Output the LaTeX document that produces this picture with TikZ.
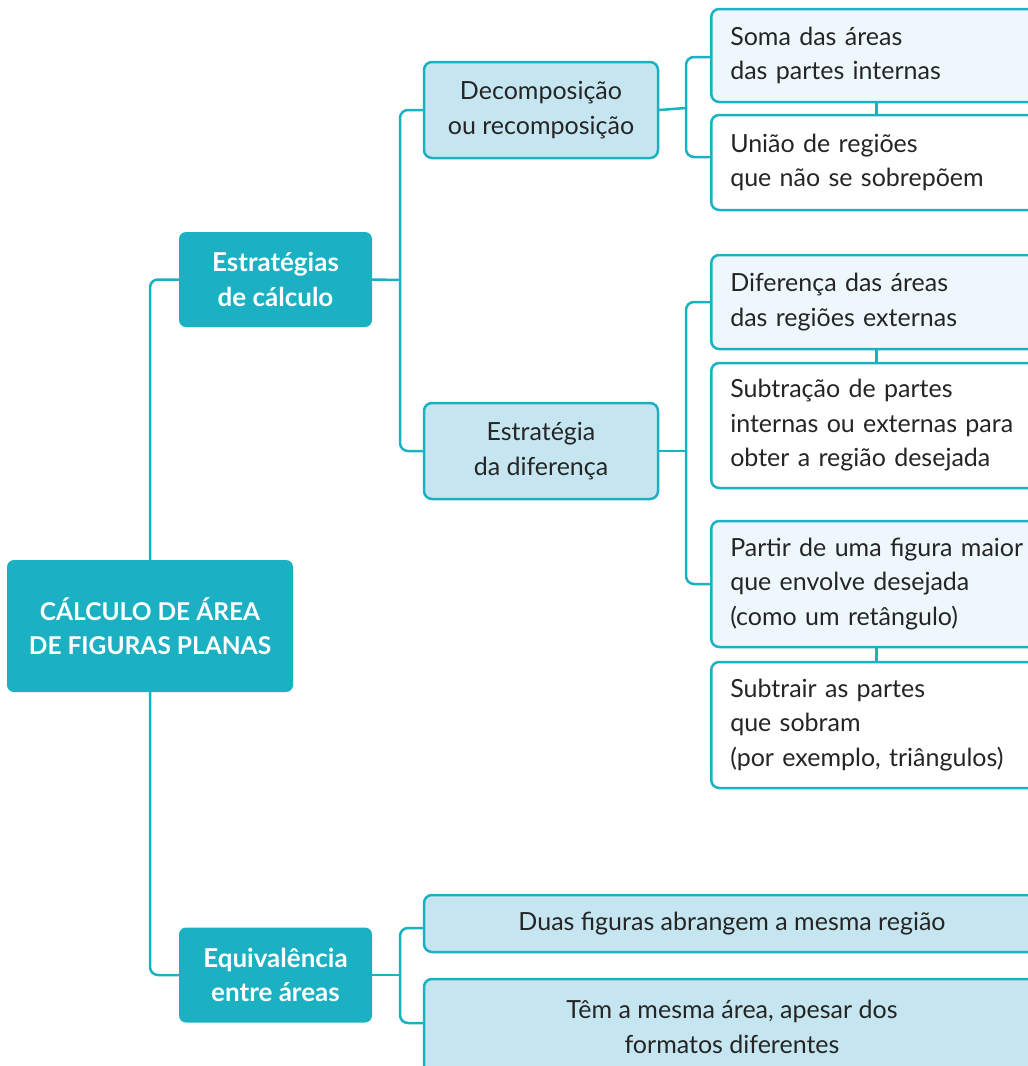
\documentclass[tikz,border=0pt]{standalone}
\usepackage{fontspec}
\setmainfont{Lato}
\usetikzlibrary{calc}
\definecolor{teal1}{HTML}{1CB1C2}
\definecolor{lblue}{HTML}{C5E6F0}
\definecolor{vlblue}{HTML}{EEF8FC}
\definecolor{txt}{HTML}{252525}
\tikzset{
  conn/.style={draw=teal1, line width=2.5pt, rounded corners=8pt},
  rootbox/.style={fill=teal1, rounded corners=7pt, text=white, align=center,
     font=\fontsize{24.5}{34}\selectfont\bfseries, minimum width=286pt, minimum height=132pt, inner sep=0pt},
  lvlone/.style={fill=teal1, rounded corners=7pt, text=white, align=center,
     font=\fontsize{26}{34.5}\selectfont\bfseries, minimum width=193pt, minimum height=95pt, inner sep=0pt},
  lvltwo/.style={fill=lblue, draw=teal1, line width=2.5pt, rounded corners=8pt, text=txt, align=center,
     font=\fontsize{25}{34.5}\selectfont, minimum width=234pt, minimum height=96pt, inner sep=0pt},
  leaf/.style={draw=teal1, fill=white, line width=2.5pt, rounded corners=8pt, text=txt, align=left,
     font=\fontsize{25}{34.5}\selectfont, anchor=west, text width=320pt, inner xsep=19pt, inner ysep=0pt},
  leaflight/.style={leaf, fill=vlblue},
  wide/.style={fill=lblue, draw=teal1, line width=2.5pt, rounded corners=8pt, text=txt, align=center,
     font=\fontsize{25}{34.5}\selectfont, minimum width=616pt, inner sep=0pt},
}
\begin{document}
\begin{tikzpicture}[x=1pt,y=-1pt]
\useasboundingbox (0,0) rectangle (1028,1066);
\clip (0,0) rectangle (1028,1066);
\fill[white] (0,0) rectangle (1028,1066);

% nodes
\node[rootbox] (root) at (150,626) {CÁLCULO DE ÁREA\\DE FIGURAS PLANAS};
\node[lvlone] (est) at (275.5,279.5) {Estratégias\\de cálculo};
\node[lvlone] (eq) at (275.5,975) {Equivalência\\entre áreas};
\node[lvltwo] (dec) at (541,110) {Decomposição\\ou recomposição};
\node[lvltwo] (dif) at (541,451) {Estratégia\\da diferença};

\node[leaflight, minimum height=93pt] (b1) at (710,55.5) {Soma das áreas\\das partes internas};
\node[leaf, minimum height=95pt] (b2) at (710,162.5) {União de regiões\\que não se sobrepõem};
\node[leaflight, minimum height=94pt] (b3) at (710,302) {Diferença das áreas\\das regiões externas};
\node[leaf, minimum height=125pt] (b4) at (710,425.5) {Subtração de partes\\internas ou externas para\\obter a região desejada};
\node[leaflight, minimum height=126pt] (b5) at (710,584) {Partir de uma figura maior\\que envolve desejada\\(como um retângulo)};
\node[leaf, minimum height=126pt] (b6) at (710,725) {Subtrair as partes\\que sobram\\(por exemplo, triângulos)};

\node[wide, minimum height=57pt] (duas) at (732,923.5) {Duas figuras abrangem a mesma região};
\node[wide, minimum height=96pt] (tem) at (732,1027) {Têm a mesma área, apesar dos\\formatos diferentes};

% junctions
\coordinate (j1) at (400,280);
\coordinate (j2) at (686,108);
\coordinate (j3) at (686,451);
\coordinate (j4) at (400,975);

% connectors
\draw[conn] (root.north) |- (est.west);
\draw[conn] (root.south) |- (eq.west);

\draw[conn] (est.east) -- (j1);
\draw[conn] (j1) |- (dec.west);
\draw[conn] (j1) |- (dif.west);

\draw[conn] (dec.east) -- (j2);
\draw[conn] (j2) |- ([yshift=-1.5pt]b1.west);
\draw[conn] (j2) |- ([yshift=5.5pt]b2.west);
\draw[conn] ([xshift=-14pt]b1.south) -- ([xshift=-14pt]b2.north);

\draw[conn] (dif.east) -- (j3);
\draw[conn] (j3) |- (b3.west);
\draw[conn] (j3) |- (b5.west);
\draw[conn] ([xshift=-14pt]b3.south) -- ([xshift=-14pt]b4.north);
\draw[conn] ([xshift=-14pt]b5.south) -- ([xshift=-14pt]b6.north);

\draw[conn] (eq.east) -- (j4);
\draw[conn] (j4) |- ([yshift=-4.5pt]duas.west);
\draw[conn] (j4) |- ([yshift=4pt]tem.west);
\end{tikzpicture}
\end{document}
